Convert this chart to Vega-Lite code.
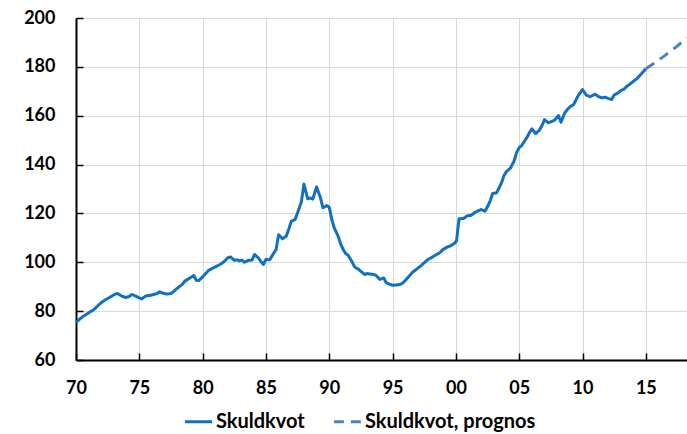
{
  "$schema": "https://vega.github.io/schema/vega-lite/v6.json",
  "autosize": "none",
  "width": 611,
  "height": 342,
  "padding": {"left": 76, "top": 18, "right": 0, "bottom": 74},
  "config": {
    "view": {"stroke": null},
    "font": "Lato",
    "axis": {
      "labelFont": "Lato",
      "labelFontSize": 18,
      "labelFontWeight": "bold",
      "labelColor": "#000000",
      "domainColor": "#000000",
      "domainWidth": 2,
      "tickColor": "#000000",
      "tickWidth": 1.5,
      "tickSize": -7,
      "gridColor": "#d9d9d9",
      "gridWidth": 1,
      "title": null
    },
    "legend": {
      "orient": "none",
      "legendX": 107,
      "legendY": 388,
      "direction": "horizontal",
      "labelFont": "Lato",
      "labelFontSize": 20,
      "labelFontWeight": "bold",
      "labelColor": "#000000",
      "labelOffset": 2,
      "symbolType": "stroke",
      "symbolSize": 740,
      "symbolStrokeWidth": 3,
      "labelLimit": 400,
      "columnPadding": 22,
      "title": null
    }
  },
  "data": {
    "values": [
      {"t": 1970.0, "v": 75.3, "serie": "Skuldkvot"},
      {"t": 1970.3, "v": 76.8, "serie": "Skuldkvot"},
      {"t": 1970.6, "v": 78.0, "serie": "Skuldkvot"},
      {"t": 1971.0, "v": 79.3, "serie": "Skuldkvot"},
      {"t": 1971.4, "v": 80.6, "serie": "Skuldkvot"},
      {"t": 1971.8, "v": 82.6, "serie": "Skuldkvot"},
      {"t": 1972.0, "v": 83.5, "serie": "Skuldkvot"},
      {"t": 1972.3, "v": 84.6, "serie": "Skuldkvot"},
      {"t": 1972.7, "v": 85.8, "serie": "Skuldkvot"},
      {"t": 1973.1, "v": 87.0, "serie": "Skuldkvot"},
      {"t": 1973.3, "v": 87.2, "serie": "Skuldkvot"},
      {"t": 1973.6, "v": 86.2, "serie": "Skuldkvot"},
      {"t": 1973.9, "v": 85.6, "serie": "Skuldkvot"},
      {"t": 1974.2, "v": 86.0, "serie": "Skuldkvot"},
      {"t": 1974.4, "v": 86.8, "serie": "Skuldkvot"},
      {"t": 1974.7, "v": 86.2, "serie": "Skuldkvot"},
      {"t": 1975.0, "v": 85.4, "serie": "Skuldkvot"},
      {"t": 1975.2, "v": 85.0, "serie": "Skuldkvot"},
      {"t": 1975.5, "v": 86.2, "serie": "Skuldkvot"},
      {"t": 1975.8, "v": 86.4, "serie": "Skuldkvot"},
      {"t": 1976.1, "v": 86.8, "serie": "Skuldkvot"},
      {"t": 1976.4, "v": 87.2, "serie": "Skuldkvot"},
      {"t": 1976.6, "v": 87.9, "serie": "Skuldkvot"},
      {"t": 1976.9, "v": 87.3, "serie": "Skuldkvot"},
      {"t": 1977.2, "v": 87.0, "serie": "Skuldkvot"},
      {"t": 1977.5, "v": 87.2, "serie": "Skuldkvot"},
      {"t": 1977.8, "v": 88.5, "serie": "Skuldkvot"},
      {"t": 1978.1, "v": 89.8, "serie": "Skuldkvot"},
      {"t": 1978.4, "v": 91.0, "serie": "Skuldkvot"},
      {"t": 1978.6, "v": 92.3, "serie": "Skuldkvot"},
      {"t": 1979.0, "v": 93.6, "serie": "Skuldkvot"},
      {"t": 1979.3, "v": 94.6, "serie": "Skuldkvot"},
      {"t": 1979.5, "v": 92.6, "serie": "Skuldkvot"},
      {"t": 1979.7, "v": 92.5, "serie": "Skuldkvot"},
      {"t": 1979.9, "v": 93.5, "serie": "Skuldkvot"},
      {"t": 1980.2, "v": 95.2, "serie": "Skuldkvot"},
      {"t": 1980.5, "v": 96.8, "serie": "Skuldkvot"},
      {"t": 1980.8, "v": 97.6, "serie": "Skuldkvot"},
      {"t": 1981.0, "v": 98.1, "serie": "Skuldkvot"},
      {"t": 1981.3, "v": 98.9, "serie": "Skuldkvot"},
      {"t": 1981.5, "v": 99.5, "serie": "Skuldkvot"},
      {"t": 1981.8, "v": 100.8, "serie": "Skuldkvot"},
      {"t": 1982.0, "v": 101.9, "serie": "Skuldkvot"},
      {"t": 1982.2, "v": 102.2, "serie": "Skuldkvot"},
      {"t": 1982.5, "v": 100.8, "serie": "Skuldkvot"},
      {"t": 1982.7, "v": 101.0, "serie": "Skuldkvot"},
      {"t": 1982.9, "v": 100.6, "serie": "Skuldkvot"},
      {"t": 1983.1, "v": 100.9, "serie": "Skuldkvot"},
      {"t": 1983.3, "v": 100.0, "serie": "Skuldkvot"},
      {"t": 1983.6, "v": 100.8, "serie": "Skuldkvot"},
      {"t": 1983.9, "v": 100.9, "serie": "Skuldkvot"},
      {"t": 1984.1, "v": 103.2, "serie": "Skuldkvot"},
      {"t": 1984.4, "v": 101.8, "serie": "Skuldkvot"},
      {"t": 1984.6, "v": 100.3, "serie": "Skuldkvot"},
      {"t": 1984.8, "v": 99.1, "serie": "Skuldkvot"},
      {"t": 1985.0, "v": 101.2, "serie": "Skuldkvot"},
      {"t": 1985.3, "v": 101.0, "serie": "Skuldkvot"},
      {"t": 1985.5, "v": 102.8, "serie": "Skuldkvot"},
      {"t": 1985.8, "v": 105.2, "serie": "Skuldkvot"},
      {"t": 1986.0, "v": 111.3, "serie": "Skuldkvot"},
      {"t": 1986.3, "v": 109.6, "serie": "Skuldkvot"},
      {"t": 1986.6, "v": 110.7, "serie": "Skuldkvot"},
      {"t": 1986.8, "v": 113.5, "serie": "Skuldkvot"},
      {"t": 1987.0, "v": 116.8, "serie": "Skuldkvot"},
      {"t": 1987.3, "v": 117.5, "serie": "Skuldkvot"},
      {"t": 1987.5, "v": 120.3, "serie": "Skuldkvot"},
      {"t": 1987.8, "v": 124.8, "serie": "Skuldkvot"},
      {"t": 1988.0, "v": 132.0, "serie": "Skuldkvot"},
      {"t": 1988.3, "v": 126.0, "serie": "Skuldkvot"},
      {"t": 1988.5, "v": 126.3, "serie": "Skuldkvot"},
      {"t": 1988.7, "v": 125.9, "serie": "Skuldkvot"},
      {"t": 1989.0, "v": 130.8, "serie": "Skuldkvot"},
      {"t": 1989.3, "v": 126.5, "serie": "Skuldkvot"},
      {"t": 1989.5, "v": 122.3, "serie": "Skuldkvot"},
      {"t": 1989.8, "v": 123.2, "serie": "Skuldkvot"},
      {"t": 1990.0, "v": 122.5, "serie": "Skuldkvot"},
      {"t": 1990.2, "v": 117.5, "serie": "Skuldkvot"},
      {"t": 1990.4, "v": 114.0, "serie": "Skuldkvot"},
      {"t": 1990.7, "v": 110.7, "serie": "Skuldkvot"},
      {"t": 1990.9, "v": 107.5, "serie": "Skuldkvot"},
      {"t": 1991.1, "v": 105.2, "serie": "Skuldkvot"},
      {"t": 1991.3, "v": 103.6, "serie": "Skuldkvot"},
      {"t": 1991.5, "v": 102.8, "serie": "Skuldkvot"},
      {"t": 1991.8, "v": 100.2, "serie": "Skuldkvot"},
      {"t": 1992.0, "v": 98.1, "serie": "Skuldkvot"},
      {"t": 1992.3, "v": 97.2, "serie": "Skuldkvot"},
      {"t": 1992.5, "v": 96.3, "serie": "Skuldkvot"},
      {"t": 1992.8, "v": 95.0, "serie": "Skuldkvot"},
      {"t": 1993.0, "v": 95.4, "serie": "Skuldkvot"},
      {"t": 1993.2, "v": 95.2, "serie": "Skuldkvot"},
      {"t": 1993.5, "v": 95.0, "serie": "Skuldkvot"},
      {"t": 1993.7, "v": 94.6, "serie": "Skuldkvot"},
      {"t": 1994.0, "v": 93.0, "serie": "Skuldkvot"},
      {"t": 1994.3, "v": 93.6, "serie": "Skuldkvot"},
      {"t": 1994.5, "v": 91.6, "serie": "Skuldkvot"},
      {"t": 1994.7, "v": 91.2, "serie": "Skuldkvot"},
      {"t": 1995.0, "v": 90.6, "serie": "Skuldkvot"},
      {"t": 1995.3, "v": 90.7, "serie": "Skuldkvot"},
      {"t": 1995.6, "v": 90.9, "serie": "Skuldkvot"},
      {"t": 1995.8, "v": 91.5, "serie": "Skuldkvot"},
      {"t": 1996.0, "v": 92.5, "serie": "Skuldkvot"},
      {"t": 1996.3, "v": 94.3, "serie": "Skuldkvot"},
      {"t": 1996.6, "v": 96.0, "serie": "Skuldkvot"},
      {"t": 1996.9, "v": 97.2, "serie": "Skuldkvot"},
      {"t": 1997.2, "v": 98.4, "serie": "Skuldkvot"},
      {"t": 1997.5, "v": 99.8, "serie": "Skuldkvot"},
      {"t": 1997.8, "v": 101.2, "serie": "Skuldkvot"},
      {"t": 1998.1, "v": 102.0, "serie": "Skuldkvot"},
      {"t": 1998.4, "v": 103.0, "serie": "Skuldkvot"},
      {"t": 1998.7, "v": 103.8, "serie": "Skuldkvot"},
      {"t": 1999.0, "v": 105.3, "serie": "Skuldkvot"},
      {"t": 1999.3, "v": 106.2, "serie": "Skuldkvot"},
      {"t": 1999.6, "v": 106.8, "serie": "Skuldkvot"},
      {"t": 1999.9, "v": 107.8, "serie": "Skuldkvot"},
      {"t": 2000.05, "v": 108.8, "serie": "Skuldkvot"},
      {"t": 2000.25, "v": 117.8, "serie": "Skuldkvot"},
      {"t": 2000.6, "v": 117.9, "serie": "Skuldkvot"},
      {"t": 2000.9, "v": 119.0, "serie": "Skuldkvot"},
      {"t": 2001.2, "v": 119.2, "serie": "Skuldkvot"},
      {"t": 2001.5, "v": 120.4, "serie": "Skuldkvot"},
      {"t": 2001.8, "v": 121.2, "serie": "Skuldkvot"},
      {"t": 2002.0, "v": 121.6, "serie": "Skuldkvot"},
      {"t": 2002.3, "v": 120.9, "serie": "Skuldkvot"},
      {"t": 2002.5, "v": 122.8, "serie": "Skuldkvot"},
      {"t": 2002.7, "v": 125.0, "serie": "Skuldkvot"},
      {"t": 2002.9, "v": 128.2, "serie": "Skuldkvot"},
      {"t": 2003.2, "v": 128.4, "serie": "Skuldkvot"},
      {"t": 2003.4, "v": 130.3, "serie": "Skuldkvot"},
      {"t": 2003.6, "v": 132.5, "serie": "Skuldkvot"},
      {"t": 2003.8, "v": 135.5, "serie": "Skuldkvot"},
      {"t": 2004.0, "v": 137.2, "serie": "Skuldkvot"},
      {"t": 2004.3, "v": 138.5, "serie": "Skuldkvot"},
      {"t": 2004.6, "v": 141.5, "serie": "Skuldkvot"},
      {"t": 2004.8, "v": 145.0, "serie": "Skuldkvot"},
      {"t": 2005.0, "v": 146.9, "serie": "Skuldkvot"},
      {"t": 2005.2, "v": 147.8, "serie": "Skuldkvot"},
      {"t": 2005.4, "v": 149.5, "serie": "Skuldkvot"},
      {"t": 2005.6, "v": 151.0, "serie": "Skuldkvot"},
      {"t": 2005.8, "v": 153.0, "serie": "Skuldkvot"},
      {"t": 2006.0, "v": 154.6, "serie": "Skuldkvot"},
      {"t": 2006.3, "v": 152.7, "serie": "Skuldkvot"},
      {"t": 2006.6, "v": 154.1, "serie": "Skuldkvot"},
      {"t": 2006.8, "v": 156.0, "serie": "Skuldkvot"},
      {"t": 2007.0, "v": 158.4, "serie": "Skuldkvot"},
      {"t": 2007.3, "v": 157.1, "serie": "Skuldkvot"},
      {"t": 2007.5, "v": 157.5, "serie": "Skuldkvot"},
      {"t": 2007.8, "v": 158.2, "serie": "Skuldkvot"},
      {"t": 2008.1, "v": 160.1, "serie": "Skuldkvot"},
      {"t": 2008.3, "v": 157.3, "serie": "Skuldkvot"},
      {"t": 2008.6, "v": 161.2, "serie": "Skuldkvot"},
      {"t": 2008.8, "v": 162.5, "serie": "Skuldkvot"},
      {"t": 2009.0, "v": 163.6, "serie": "Skuldkvot"},
      {"t": 2009.3, "v": 164.6, "serie": "Skuldkvot"},
      {"t": 2009.6, "v": 167.7, "serie": "Skuldkvot"},
      {"t": 2009.8, "v": 169.3, "serie": "Skuldkvot"},
      {"t": 2010.0, "v": 170.7, "serie": "Skuldkvot"},
      {"t": 2010.3, "v": 168.4, "serie": "Skuldkvot"},
      {"t": 2010.6, "v": 167.8, "serie": "Skuldkvot"},
      {"t": 2011.0, "v": 168.8, "serie": "Skuldkvot"},
      {"t": 2011.2, "v": 168.0, "serie": "Skuldkvot"},
      {"t": 2011.5, "v": 167.3, "serie": "Skuldkvot"},
      {"t": 2011.8, "v": 167.6, "serie": "Skuldkvot"},
      {"t": 2012.0, "v": 167.1, "serie": "Skuldkvot"},
      {"t": 2012.3, "v": 166.6, "serie": "Skuldkvot"},
      {"t": 2012.5, "v": 168.5, "serie": "Skuldkvot"},
      {"t": 2012.8, "v": 169.3, "serie": "Skuldkvot"},
      {"t": 2013.0, "v": 170.2, "serie": "Skuldkvot"},
      {"t": 2013.3, "v": 171.0, "serie": "Skuldkvot"},
      {"t": 2013.5, "v": 172.0, "serie": "Skuldkvot"},
      {"t": 2013.8, "v": 173.2, "serie": "Skuldkvot"},
      {"t": 2014.0, "v": 174.0, "serie": "Skuldkvot"},
      {"t": 2014.3, "v": 175.2, "serie": "Skuldkvot"},
      {"t": 2014.6, "v": 176.9, "serie": "Skuldkvot"},
      {"t": 2014.8, "v": 178.0, "serie": "Skuldkvot"},
      {"t": 2015.0, "v": 179.2, "serie": "Skuldkvot"},
      {"t": 2015.0, "v": 179.2, "serie": "Skuldkvot, prognos"},
      {"t": 2015.5, "v": 181.0, "serie": "Skuldkvot, prognos"},
      {"t": 2016.0, "v": 182.8, "serie": "Skuldkvot, prognos"},
      {"t": 2016.5, "v": 184.6, "serie": "Skuldkvot, prognos"},
      {"t": 2017.0, "v": 186.6, "serie": "Skuldkvot, prognos"},
      {"t": 2017.5, "v": 188.6, "serie": "Skuldkvot, prognos"},
      {"t": 2018.0, "v": 190.8, "serie": "Skuldkvot, prognos"},
      {"t": 2018.25, "v": 191.8, "serie": "Skuldkvot, prognos"}
    ]
  },
  "mark": {"type": "line", "strokeWidth": 3, "strokeJoin": "round", "strokeCap": "butt"},
  "encoding": {
    "x": {
      "field": "t",
      "type": "quantitative",
      "scale": {"domain": [1970, 2018.25], "nice": false, "zero": false},
      "axis": {
        "values": [1970, 1975, 1980, 1985, 1990, 1995, 2000, 2005, 2010, 2015],
        "labelExpr": "(datum.value % 100) < 10 ? '0' + (datum.value % 100) : '' + (datum.value % 100)",
        "labelPadding": 26,
        "labelFlush": false
      }
    },
    "y": {
      "field": "v",
      "type": "quantitative",
      "scale": {"domain": [60, 200], "nice": false, "zero": false},
      "axis": {
        "values": [60, 80, 100, 120, 140, 160, 180, 200],
        "labelPadding": 28
      }
    },
    "color": {
      "field": "serie",
      "type": "nominal",
      "scale": {"domain": ["Skuldkvot", "Skuldkvot, prognos"], "range": ["#1170bf", "#4f81bd"]}
    },
    "strokeDash": {
      "field": "serie",
      "type": "nominal",
      "scale": {"domain": ["Skuldkvot", "Skuldkvot, prognos"], "range": [[1, 0], [10, 7]]}
    },
    "order": {"field": "t", "type": "quantitative"}
  }
}
